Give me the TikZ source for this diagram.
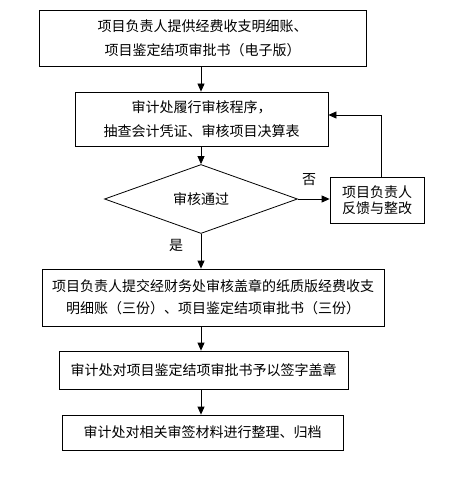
\documentclass[tikz,border=0pt]{standalone}
\usepackage{fontspec}
\setmainfont{Noto Sans CJK SC}
\usetikzlibrary{shapes.geometric,arrows.meta}
\begin{document}
\begin{tikzpicture}[x=1pt,y=-1pt,
  every node/.style={font=\fontsize{14pt}{24pt}\selectfont},
  box/.style={draw,line width=0.8pt,inner sep=0pt,align=center},
  arr/.style={line width=0.8pt,-{Triangle[width=7pt,length=8pt]}},
  lbl/.style={inner sep=0pt}]
\useasboundingbox (0,0) rectangle (449,478);
\fill[white] (0,0) rectangle (449,478);
\node[box,minimum width=327pt,minimum height=56pt] (b1) at (202.5,38)
  {项目负责人提供经费收支明细账、\\项目鉴定结项审批书（电子版）};
\node[box,minimum width=253pt,minimum height=54pt] (b2) at (201.5,119)
  {审计处履行审核程序，\\抽查会计凭证、审核项目决算表};
\node[draw,line width=0.8pt,diamond,inner sep=0pt,minimum width=193pt,minimum height=56pt] (dia) at (201,199)
  {审核通过};
\node[box,minimum width=94pt,minimum height=46pt,font=\fontsize{14pt}{16.5pt}\selectfont] (fb) at (377,200)
  {项目负责人\\反馈与整改};
\node[box,minimum width=342pt,minimum height=57pt,font=\fontsize{14pt}{22pt}\selectfont] (b3) at (213,297.5)
  {项目负责人提交经财务处审核盖章的纸质版经费收支\\明细账（三份）、项目鉴定结项审批书（三份）};
\node[box,minimum width=289pt,minimum height=38pt] (b4) at (203.5,370)
  {审计处对项目鉴定结项审批书予以签字盖章};
\node[box,minimum width=281pt,minimum height=35pt] (b5) at (202.5,432.5)
  {审计处对相关审签材料进行整理、归档};
\coordinate (fbx) at (381,115);
\draw[arr] (b1.south -| dia) -- (b2.north -| dia);
\draw[arr] (b2.south -| dia) -- (dia.north);
\draw[arr] (dia.east) -- (fb.west |- dia.east);
\draw[arr] (fb.north -| fbx) |- (b2.east |- fbx);
\draw[arr] (dia.south) -- (b3.north -| dia);
\draw[arr] (b3.south -| dia) -- (b4.north -| dia);
\draw[arr] (b4.south -| dia) -- (b5.north -| dia);
\node[lbl] (no) at (309,180) {否};
\node[lbl] (yes) at (176,245) {是};
\end{tikzpicture}
\end{document}
